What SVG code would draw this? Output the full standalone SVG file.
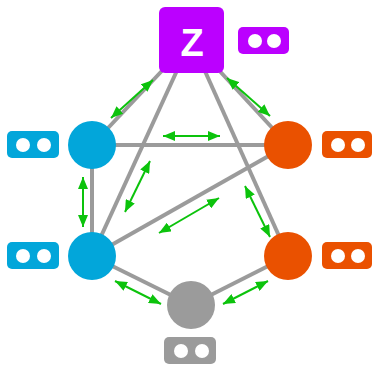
<svg xmlns="http://www.w3.org/2000/svg" width="375" height="365" viewBox="0 0 375 365">
  <style>
    .edge { stroke: #9b9b9b; stroke-width: 4; fill: none; }
    .arrow { stroke: #0cc30c; stroke-width: 2; fill: none; marker-start: url(#head); marker-end: url(#head); }
    .blue { fill: #02a6da; }
    .orange { fill: #ea5100; }
    .purple { fill: #bb00ff; }
    .grey { fill: #9b9b9b; }
    .dot { fill: #ffffff; }
    .label { font-family: "Liberation Sans", Arial, sans-serif; font-size: 38px; font-weight: bold; fill: #ffffff; text-anchor: middle; }
  </style>
  <defs>
    <marker id="head" markerUnits="userSpaceOnUse" markerWidth="12" markerHeight="10" refX="12" refY="5" orient="auto-start-reverse" viewBox="0 0 12 10">
      <path d="M0,0 L12,5 L0,10 Z" fill="#0cc30c"/>
    </marker>
  </defs>

  <!-- graph edges, centre to centre -->
  <g id="edges">
    <line class="edge" x1="191" y1="40" x2="92" y2="145"/>
    <line class="edge" x1="191" y1="40" x2="288" y2="145"/>
    <line class="edge" x1="191" y1="40" x2="92" y2="256"/>
    <line class="edge" x1="191" y1="40" x2="288" y2="256"/>
    <line class="edge" x1="92" y1="145" x2="288" y2="145"/>
    <line class="edge" x1="92" y1="145" x2="92" y2="256"/>
    <line class="edge" x1="92" y1="256" x2="288" y2="145"/>
    <line class="edge" x1="92" y1="256" x2="191" y2="305"/>
    <line class="edge" x1="288" y1="256" x2="191" y2="305"/>
  </g>

  <!-- two-way arrows beside the edges -->
  <g id="arrows">
    <line class="arrow" x1="153" y1="80" x2="111" y2="118"/>
    <line class="arrow" x1="163" y1="136" x2="220" y2="136"/>
    <line class="arrow" x1="227" y1="78" x2="270" y2="116"/>
    <line class="arrow" x1="150" y1="161" x2="125" y2="212"/>
    <line class="arrow" x1="219" y1="198" x2="159" y2="233"/>
    <line class="arrow" x1="245" y1="186" x2="270" y2="237"/>
    <line class="arrow" x1="83" y1="177" x2="83" y2="227"/>
    <line class="arrow" x1="115" y1="281" x2="161" y2="304"/>
    <line class="arrow" x1="268" y1="281" x2="223" y2="304"/>
  </g>

  <g id="node-z">
    <rect class="purple" x="159" y="7" width="65" height="66" rx="6"/>
    <text class="label" x="192" y="56">Z</text>
    <rect class="purple" x="238" y="27" width="51" height="27" rx="5"/>
    <circle class="dot" cx="255" cy="41" r="7"/>
    <circle class="dot" cx="274" cy="41" r="7"/>
  </g>

  <g id="node-blue-top">
    <circle class="blue" cx="92" cy="145" r="24"/>
    <rect class="blue" x="7" y="131" width="52" height="27" rx="5"/>
    <circle class="dot" cx="23" cy="145" r="7"/>
    <circle class="dot" cx="44" cy="145" r="7"/>
  </g>

  <g id="node-blue-bottom">
    <circle class="blue" cx="92" cy="256" r="24"/>
    <rect class="blue" x="7" y="242" width="52" height="27" rx="5"/>
    <circle class="dot" cx="23" cy="256" r="7"/>
    <circle class="dot" cx="44" cy="256" r="7"/>
  </g>

  <g id="node-orange-top">
    <circle class="orange" cx="288" cy="145" r="24"/>
    <rect class="orange" x="322" y="131" width="50" height="27" rx="5"/>
    <circle class="dot" cx="338" cy="145" r="7"/>
    <circle class="dot" cx="358" cy="145" r="7"/>
  </g>

  <g id="node-orange-bottom">
    <circle class="orange" cx="288" cy="256" r="24"/>
    <rect class="orange" x="322" y="242" width="50" height="27" rx="5"/>
    <circle class="dot" cx="338" cy="256" r="7"/>
    <circle class="dot" cx="358" cy="256" r="7"/>
  </g>

  <g id="node-grey">
    <circle class="grey" cx="191" cy="305" r="24"/>
    <rect class="grey" x="164" y="337" width="52" height="27" rx="5"/>
    <circle class="dot" cx="181" cy="351" r="7"/>
    <circle class="dot" cx="202" cy="351" r="7"/>
  </g>
</svg>
